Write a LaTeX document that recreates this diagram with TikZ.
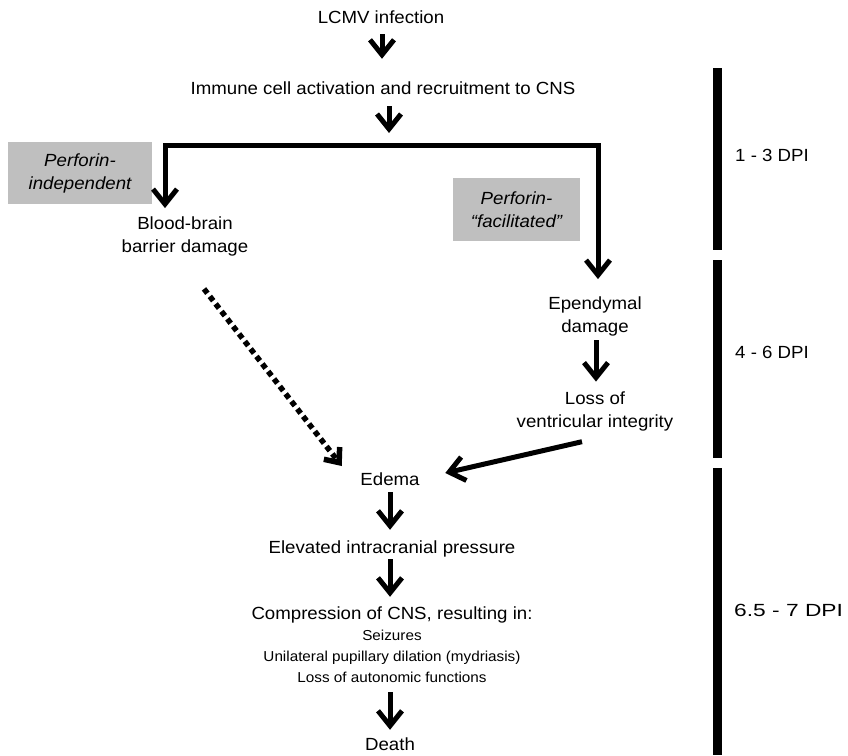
\documentclass[tikz,border=0pt]{standalone}
\usepackage{fontspec}
\setmainfont[FakeStretch=1.06]{Liberation Sans}
\usetikzlibrary{arrows.meta,calc}
\definecolor{boxgray}{RGB}{191,191,191}
\newcommand{\mainsz}{\fontsize{17.6}{23}\selectfont}
\newcommand{\smallsz}{\fontsize{14.4}{21}\selectfont}
\begin{document}
\begin{tikzpicture}[x=1pt,y=-1pt,
  txt/.style={font=\mainsz, inner sep=0pt, text height=12pt, text depth=3.5pt, anchor=base},
  ml/.style={font=\mainsz, inner sep=0pt, align=center},
  sm/.style={font=\smallsz, inner sep=0pt, align=center},
  gbox/.style={fill=boxgray, font=\mainsz\itshape, align=center, inner sep=0pt},
  tipb/.style={-{Straight Barb[length=15pt,width=24pt,line cap=butt,line join=miter]}},
  arr/.style={line width=5pt, tipb},
  dotarr/.style={line width=5.5pt, dash pattern=on 5.5pt off 4pt, -{Straight Barb[length=12pt,width=20pt,line cap=butt,line join=miter]}},
  bar/.style={fill=black},
  dpi/.style={font=\mainsz, inner sep=0pt, anchor=base west}
]
\useasboundingbox (0,0) rectangle (848,755);
\fill[white] (0,0) rectangle (848,755);

% text nodes
\node[txt] (lcmv) at (381,23.5) {LCMV infection};
\node[txt] (immune) at (383,94) {Immune cell activation and recruitment to CNS};
\node[ml] (bbb) at (185,236) {Blood-brain\\barrier damage};
\node[ml] (epen) at (595,316) {Ependymal\\damage};
\node[ml] (loss) at (595,411.5) {Loss of\\ventricular integrity};
\node[txt] (edema) at (390,485) {Edema};
\node[txt] (icp) at (392,553) {Elevated intracranial pressure};
\node[txt] (comp) at (392,619.5) {Compression of CNS, resulting in:};
\node[sm] (symp) at (392,656) {Seizures\\Unilateral pupillary dilation (mydriasis)\\Loss of autonomic functions};
\node[txt] (death) at (390,750) {Death};

% gray boxes
\node[gbox, minimum width=144pt, minimum height=62pt] (pind) at (80,173) {Perforin-\\independent};
\node[gbox, minimum width=127pt, minimum height=63pt] (pfac) at (516.5,209.5) {Perforin-\\“facilitated”};

% split
\coordinate (hl) at (165,145);
\coordinate (hr) at (598,145);

% arrows
\draw[arr, shorten <=7pt, shorten >=23pt] ([xshift=1pt]lcmv.south) -- ([xshift=1pt]lcmv.south |- immune.north);
\draw[arr, shorten <=8.5pt, shorten >=12pt] ([xshift=6pt]immune.south) -- ([xshift=6pt]immune.south |- hl);
\draw[line width=5pt, line cap=rect] (hl) -- (hr);
\draw[arr, shorten >=8pt] (hl) -- (hl |- bbb.north);
\draw[arr, shorten >=17pt] (hr) -- (hr |- epen.north);
\draw[arr, shorten <=4.3pt, shorten >=10pt] ([xshift=1pt]epen.south) -- ([xshift=1pt]epen.south |- loss.north);
\draw[arr] ($(loss.south)+(-13,10.3)$) -- ($(edema.east)+(25.5,-7.75)$);
\draw[dotarr] ($(bbb.south)+(19,33)$) -- ($(edema.west)+(-18.5,-14.75)$);
\draw[arr, shorten <=3.5pt, shorten >=11pt] (edema.south) -- (edema.south |- icp.north);
\draw[arr, shorten <=2.5pt, shorten >=10.5pt] ([xshift=-2pt]icp.south) -- ([xshift=-2pt]icp.south |- comp.north);
\draw[arr, shorten <=10pt, shorten >=8pt] ([xshift=-2pt]symp.south) -- ([xshift=-2pt]symp.south |- death.north);

% time bars
\fill[bar] (713,68) rectangle (722,250);
\fill[bar] (713,260) rectangle (722,458);
\fill[bar] (713,468) rectangle (722,755);
\node[dpi] (d1) at (735,161) {1 - 3 DPI};
\node[dpi] (d2) at (735,358) {4 - 6 DPI};
\node[dpi] (d3) at (734,616) {\scalebox{1.22}[1]{6.5 - 7 DPI}};
\end{tikzpicture}
\end{document}
